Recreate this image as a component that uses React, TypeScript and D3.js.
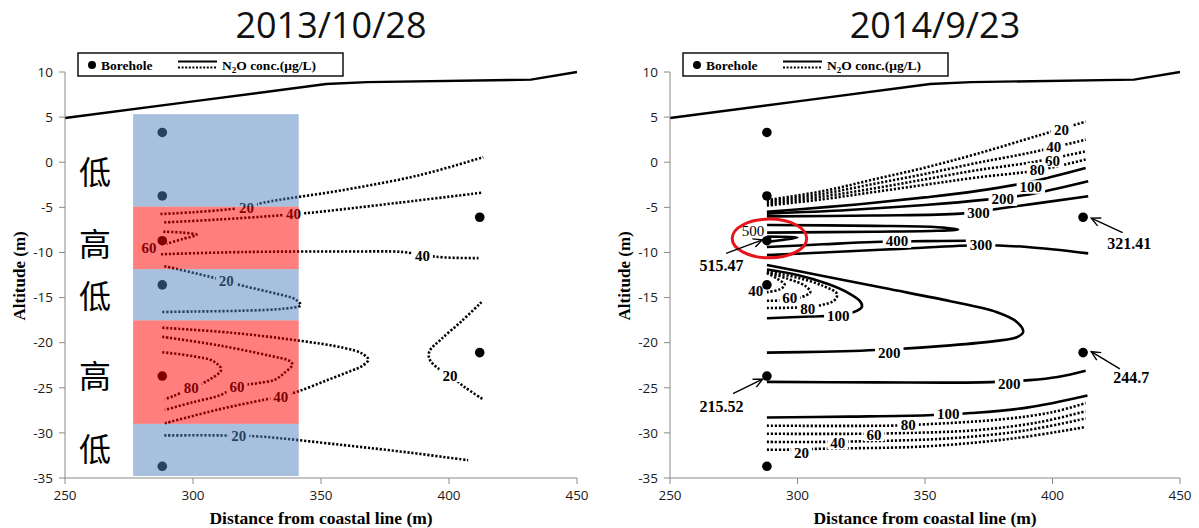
import React from 'react';
import * as d3 from 'd3';

type P = [number, number];

const W = 1199;
const H = 528;
const xTicks = [250, 300, 350, 400, 450];
const yTicks = [10, 5, 0, -5, -10, -15, -20, -25, -30, -35];
const titles = ['2013/10/28', '2014/9/23'];

// ground surface
const groundX = [250, 300, 352, 368, 432, 450];
const groundY = [4.9, 6.74, 8.67, 8.88, 9.15, 10];

// boreholes
const boreholeX = [288, 288, 288, 288, 288, 288, 412, 412];
const boreholeY = [3.3, -3.74, -8.7, -13.6, -23.7, -33.7, -6.1, -21.1];

// left panel bands (low / high)
const bandX = [276.6, 341.3];
const bandTop = [5.33, -4.93, -11.85, -17.53, -29.0];
const bandBottom = [-4.93, -11.85, -17.53, -29.0, -34.78];
const bandHigh = [false, true, false, true, false];
const bandChar = ['低', '高', '低', '高', '低'];
const bandCharY = [-1.1, -9.1, -14.9, -23.8, -31.8];
const bandCharX = 261.7;

// ---- 2013/10/28 contours (all dotted) ----
const L20a: P[] = [[287.3, -5.74], [300, -5.55], [314.2, -5.22], [320.9, -5.0], [327.6, -4.48], [359, -3.07], [388.8, -1.41], [413.4, 0.56]];
const L40a: P[] = [[288.8, -6.67], [310, -6.35], [332.1, -5.93], [339.3, -5.74], [346.3, -5.59], [380, -4.5], [413, -3.37]];
const L60a: P[] = [[288.4, -7.7], [296, -7.8], [301.4, -8.04], [296, -8.5], [289.7, -9.04]];
const L40b: P[] = [[287.5, -10.2], [320, -9.95], [360, -9.9], [382, -9.95], [390, -10.3], [398, -10.55], [411.5, -10.63]];
const L20b: P[] = [[288.8, -11.52], [306.7, -12.7], [313, -13.19], [320.1, -13.74], [333, -14.6], [340, -15.2], [342, -15.85], [335, -16.24], [320, -16.45], [300, -16.55], [288, -16.6]];
const L40c: P[] = [[288, -18.35], [315, -18.9], [341, -19.76], [359, -20.58], [366, -21.2], [368.5, -21.88], [366, -22.6], [362, -23.1], [352, -24.2], [341, -25.41], [334, -25.97], [327.6, -26.34], [310, -27.4], [289, -28.94]];
const L60b: P[] = [[288, -19.35], [310, -20.3], [330, -21.45], [337.5, -22.0], [338.8, -22.43], [335.5, -23.4], [332, -24.1], [325, -24.5], [317, -24.85], [311, -25.78], [300, -26.6], [289, -27.45]];
const L80a: P[] = [[288, -21.06], [300, -21.5], [308, -22.06], [311, -23.0], [306.4, -24.1], [299.3, -25.04], [292.5, -25.9], [289, -26.26]];
const L20c: P[] = [[412.7, -15.5], [405, -17.6], [397, -19.6], [392.3, -21.0], [392.5, -21.9], [396, -22.9], [400.4, -23.6], [406, -24.9], [413.4, -26.3]];
const L20d: P[] = [[288.8, -30.28], [311, -30.28], [326, -30.4], [359, -31.36], [385, -32.2], [407.5, -33.03]];
const leftContours = [L20a, L40a, L60a, L40b, L20b, L40c, L60b, L80a, L20c, L20d];

const leftLabelText = ['20', '40', '60', '40', '20', '80', '60', '40', '20', '20'];
const leftLabelX = [320.9, 339.3, 282.8, 389.6, 313, 299.3, 317.2, 334.3, 400.4, 317.9];
const leftLabelY = [-5.0, -5.74, -9.44, -10.4, -13.19, -25.04, -24.85, -25.97, -23.62, -30.3];

// ---- 2014/9/23 contours ----
const R20u: P[] = [[288, -4.2], [310, -3.2], [330, -1.9], [350, -0.6], [370, 0.9], [395, 3.0], [413, 4.5]];
const R40u: P[] = [[288, -4.4], [310, -3.5], [330, -2.4], [350, -1.3], [370, -0.1], [392, 1.1], [413, 2.5]];
const R60u: P[] = [[288, -4.6], [310, -3.8], [330, -2.9], [350, -1.9], [370, -0.9], [392, 0.0], [413, 1.2]];
const R80u: P[] = [[288, -4.8], [310, -4.1], [330, -3.3], [350, -2.5], [370, -1.7], [394, -0.9], [413, 0.3]];
const R100u: P[] = [[288, -5.5], [310, -5.0], [330, -4.5], [350, -3.9], [370, -3.2], [391, -2.2], [413, -0.65]];
const R200u: P[] = [[288, -5.7], [320, -5.3], [350, -4.75], [374, -4.15], [390, -3.6], [414, -2.1]];
const R300u: P[] = [[288, -6.0], [330, -5.9], [364, -5.7], [380, -5.1], [414, -3.77]];
const R400n: P[] = [[288, -6.95], [330, -7.05], [355, -7.2], [363, -7.45], [355, -7.6], [330, -7.7], [288, -7.8]];
const R500: P[] = [[288, -8.25], [300, -8.35], [289, -8.8]];
const R400l: P[] = [[288, -9.4], [310, -9.1], [330, -8.85], [350, -8.75], [366, -8.7]];
const R300l: P[] = [[288, -10.3], [310, -10.0], [340, -9.6], [372, -9.2], [390, -9.4], [414, -10.1]];
const R200m: P[] = [[288, -11.4], [310, -12.6], [334, -13.95], [360, -15.4], [378, -16.6], [386, -17.7], [388.5, -18.8], [386, -19.4], [378, -19.8], [360, -20.3], [336, -20.75], [310, -21.0], [288, -21.1]];
const R100m: P[] = [[288, -11.9], [300, -12.5], [312, -13.5], [320, -14.5], [324.5, -15.4], [325.3, -16.0], [323, -16.5], [316, -16.95], [305, -17.1], [288, -17.3]];
const R80m: P[] = [[288, -12.1], [300, -12.8], [310, -13.7], [315.5, -14.6], [314.5, -15.3], [309, -15.85], [300, -16.1], [288, -16.15]];
const R60m: P[] = [[288, -12.2], [296, -12.9], [303, -13.7], [305, -14.4], [301, -15.0], [295, -15.3], [288, -15.35]];
const R40m: P[] = [[288, -12.3], [292, -12.9], [295, -13.6], [293, -14.1], [288, -14.4]];
const R200l: P[] = [[288, -24.35], [330, -24.4], [372, -24.4], [391, -24.15], [402, -23.8], [413, -23.1]];
const R100l: P[] = [[288, -28.3], [320, -28.2], [351, -28.05], [368, -27.8], [390, -27.2], [413.7, -25.85]];
const R80l: P[] = [[288, -29.2], [336, -29.2], [350, -29.05], [380, -28.5], [400, -27.7], [413, -26.7]];
const R60l: P[] = [[288, -30.1], [324, -30.1], [337, -30.05], [370, -29.7], [395, -28.8], [413, -27.6]];
const R40l: P[] = [[288, -31.0], [309, -31.0], [322, -30.95], [360, -30.6], [390, -29.7], [413, -28.4]];
const R20l: P[] = [[288, -31.86], [296, -31.86], [310, -31.75], [350, -31.5], [385, -30.6], [413, -29.35]];
const rightContours = [R20u, R40u, R60u, R80u, R100u, R200u, R300u, R400n, R500, R400l, R300l, R200m, R100m, R80m, R60m, R40m, R200l, R100l, R80l, R60l, R40l, R20l];
const rightValues = [20, 40, 60, 80, 100, 200, 300, 400, 500, 400, 300, 200, 100, 80, 60, 40, 200, 100, 80, 60, 40, 20];

const rightLabelText = ['20', '40', '60', '80', '100', '200', '300', '400', '300', '40', '60', '80', '100', '200', '200', '100', '80', '60', '40', '20'];
const rightLabelX = [403.5, 400.5, 400, 394, 391.5, 380.5, 371, 339, 372, 283.6, 297, 304, 316, 336, 383, 359.1, 343.4, 330, 315.8, 301.6];
const rightLabelY = [3.6, 1.75, 0.2, -0.85, -2.75, -4.1, -5.6, -8.75, -9.15, -14.3, -15.0, -16.2, -17.0, -21.1, -24.55, -27.87, -29.08, -30.16, -31.08, -32.2];

// annotations with arrows
const annoText = ['515.47', '321.41', '244.7', '215.52'];
const annoX = [270.2, 430.1, 430.9, 270.2];
const annoY = [-11.48, -8.96, -23.8, -27.05];
const arrowFromX = [272, 427.5, 426.4, 274.7];
const arrowFromY = [-10.1, -7.8, -22.9, -25.65];
const arrowToX = [286.2, 415.2, 415.2, 286.3];
const arrowToY = [-8.6, -6.2, -21.0, -24.05];

const y = d3.scaleLinear().domain([10, -35]).range([72, 478]);
const xLeft = d3.scaleLinear().domain([250, 450]).range([65, 577]);
const xRight = d3.scaleLinear().domain([250, 450]).range([670, 1180]);

const SERIF = '"Liberation Serif", "Times New Roman", serif';
const SANS = '"Open Sans", "Noto Sans", sans-serif';

function Axes({ x, title }: { x: d3.ScaleLinear<number, number>; title: string }) {
  const x0 = x(250);
  const x1 = x(450);
  const axisColor = '#8a8a8a';
  return (
    <g>
      <line x1={x0} x2={x0} y1={y(10)} y2={y(-35)} stroke={axisColor} strokeWidth={1} />
      <line x1={x0} x2={x1} y1={y(-35)} y2={y(-35)} stroke={axisColor} strokeWidth={1} />
      {yTicks.map((t) => (
        <g key={'y' + t}>
          <line x1={x0 - 6} x2={x0} y1={y(t)} y2={y(t)} stroke={axisColor} />
          <text x={x0 - 12} y={y(t)} dy="0.35em" textAnchor="end" fontFamily={SANS} fontSize={13.5} fill="#1a1a1a">{t}</text>
        </g>
      ))}
      {xTicks.map((t) => (
        <g key={'x' + t}>
          <line x1={x(t)} x2={x(t)} y1={y(-35)} y2={y(-35) + 6} stroke={axisColor} />
          <text x={x(t)} y={500} textAnchor="middle" fontFamily={SANS} fontSize={13.5} fill="#1a1a1a">{t}</text>
        </g>
      ))}
      <text x={(x0 + x1) / 2} y={524} textAnchor="middle" fontFamily={SERIF} fontWeight="bold" fontSize={17.5}>Distance from coastal line (m)</text>
      <text transform={`translate(${x0 - 40},${y(-12.6)}) rotate(-90)`} textAnchor="middle" fontFamily={SERIF} fontWeight="bold" fontSize={17}>Altitude (m)</text>
      <text x={(x0 + x1) / 2 + 10} y={38} textAnchor="middle" fontFamily={SANS} fontSize={36} fill="#111">{title}</text>
    </g>
  );
}

function Legend({ x0 }: { x0: number }) {
  const bx = x0 + 13;
  return (
    <g>
      <rect x={bx} y={53} width={265} height={23} fill="#fff" stroke="#111" strokeWidth={1.5} />
      <circle cx={x0 + 27} cy={65} r={4} fill="#000" />
      <text x={x0 + 36} y={69.5} fontFamily={SERIF} fontWeight="bold" fontSize={13.5}>Borehole</text>
      <line x1={x0 + 113} x2={x0 + 152} y1={61.5} y2={61.5} stroke="#000" strokeWidth={2} />
      <line x1={x0 + 113} x2={x0 + 152} y1={67.5} y2={67.5} stroke="#000" strokeWidth={2} strokeDasharray="2 1.6" />
      <text x={x0 + 157} y={69.5} fontFamily={SERIF} fontWeight="bold" fontSize={13.5}>
        N<tspan fontSize={9} dy={3}>2</tspan><tspan dy={-3}>O conc.(μg/L)</tspan>
      </text>
    </g>
  );
}

function Contour({ pts, x, dotted }: { pts: P[]; x: d3.ScaleLinear<number, number>; dotted: boolean }) {
  const gen = d3.line<P>().x((d) => x(d[0])).y((d) => y(d[1])).curve(d3.curveCatmullRom.alpha(0.5));
  return (
    <path d={gen(pts) || ''} fill="none" stroke="#000" strokeWidth={2.6} strokeDasharray={dotted ? '2.2 1.8' : undefined} />
  );
}

function Label({ text, cx, cy, size, bold = true }: { text: string; cx: number; cy: number; size: number; bold?: boolean }) {
  const w = text.length * size * 0.5 + 6;
  const h = size * 0.9;
  return (
    <g>
      <rect x={cx - w / 2} y={cy - h / 2} width={w} height={h} fill="#fff" />
      <text x={cx} y={cy} dy="0.35em" textAnchor="middle" fontFamily={SERIF} fontWeight={bold ? 'bold' : 'normal'} fontSize={size}>{text}</text>
    </g>
  );
}

function Arrow({ x1, y1, x2, y2 }: { x1: number; y1: number; x2: number; y2: number }) {
  const a = Math.atan2(y2 - y1, x2 - x1);
  const L = 10;
  const s = 0.45;
  const p1 = [x2 - L * Math.cos(a - s), y2 - L * Math.sin(a - s)];
  const p2 = [x2 - L * Math.cos(a + s), y2 - L * Math.sin(a + s)];
  return (
    <g stroke="#000" strokeWidth={1.4} fill="none">
      <line x1={x1} y1={y1} x2={x2} y2={y2} />
      <polyline points={`${p1[0]},${p1[1]} ${x2},${y2} ${p2[0]},${p2[1]}`} />
    </g>
  );
}

function Ground({ x }: { x: d3.ScaleLinear<number, number> }) {
  const gen = d3.line<number>().x((d) => x(d)).y((_, i) => y(groundY[i]));
  return <path d={gen(groundX) || ''} fill="none" stroke="#000" strokeWidth={2.4} />;
}

function Boreholes({ x }: { x: d3.ScaleLinear<number, number> }) {
  return (
    <g>
      {boreholeX.map((bx, i) => (
        <circle key={i} cx={x(bx)} cy={y(boreholeY[i])} r={4.8} fill="#000" />
      ))}
    </g>
  );
}

function LeftPanel() {
  const x = xLeft;
  return (
    <g>
      <Ground x={x} />
      {leftContours.map((c, i) => <Contour key={i} pts={c} x={x} dotted={true} />)}
      {leftLabelText.map((t, i) => <Label key={i} text={t} cx={x(leftLabelX[i])} cy={y(leftLabelY[i])} size={15} />)}
      <Boreholes x={x} />
      {bandTop.map((t, i) => (
        <rect key={i} x={x(bandX[0])} y={y(t)} width={x(bandX[1]) - x(bandX[0])} height={y(bandBottom[i]) - y(t)}
          fill={bandHigh[i] ? 'rgb(255,0,0)' : 'rgb(79,129,189)'} fillOpacity={0.5} />
      ))}
      {bandChar.map((c, i) => (
        <text key={i} x={x(bandCharX)} y={y(bandCharY[i])} dy="0.36em" textAnchor="middle" fontFamily='"Noto Sans CJK SC", "Noto Sans CJK JP", sans-serif' fontSize={32} fill="#000">{c}</text>
      ))}
      <Legend x0={x(250)} />
      <Axes x={x} title={titles[0]} />
    </g>
  );
}

function RightPanel() {
  const x = xRight;
  return (
    <g>
      <Ground x={x} />
      {rightContours.map((c, i) => <Contour key={i} pts={c} x={x} dotted={rightValues[i] < 100} />)}
      {rightLabelText.map((t, i) => <Label key={i} text={t} cx={x(rightLabelX[i])} cy={y(rightLabelY[i])} size={15} />)}
      <Label text="500" cx={x(282.5)} cy={y(-7.65)} size={15} bold={false} />
      <Boreholes x={x} />
      <ellipse cx={x(289)} cy={y(-8.45)} rx={x(303.6) - x(289)} ry={y(-10.6) - y(-8.45)} fill="none" stroke="#e8141b" strokeWidth={3} />
      {annoText.map((t, i) => (
        <g key={i}>
          <Arrow x1={x(arrowFromX[i])} y1={y(arrowFromY[i])} x2={x(arrowToX[i])} y2={y(arrowToY[i])} />
          <text x={x(annoX[i])} y={y(annoY[i])} dy="0.35em" textAnchor="middle" fontFamily={SERIF} fontWeight="bold" fontSize={16}>{t}</text>
        </g>
      ))}
      <Legend x0={x(250)} />
      <Axes x={x} title={titles[1]} />
    </g>
  );
}

export default function App() {
  return (
    <svg width={W} height={H} viewBox={`0 0 ${W} ${H}`} style={{ position: 'absolute', left: 0, top: 0, background: '#fff' }}>
      <rect x={0} y={0} width={W} height={H} fill="#fff" />
      <LeftPanel />
      <RightPanel />
    </svg>
  );
}
